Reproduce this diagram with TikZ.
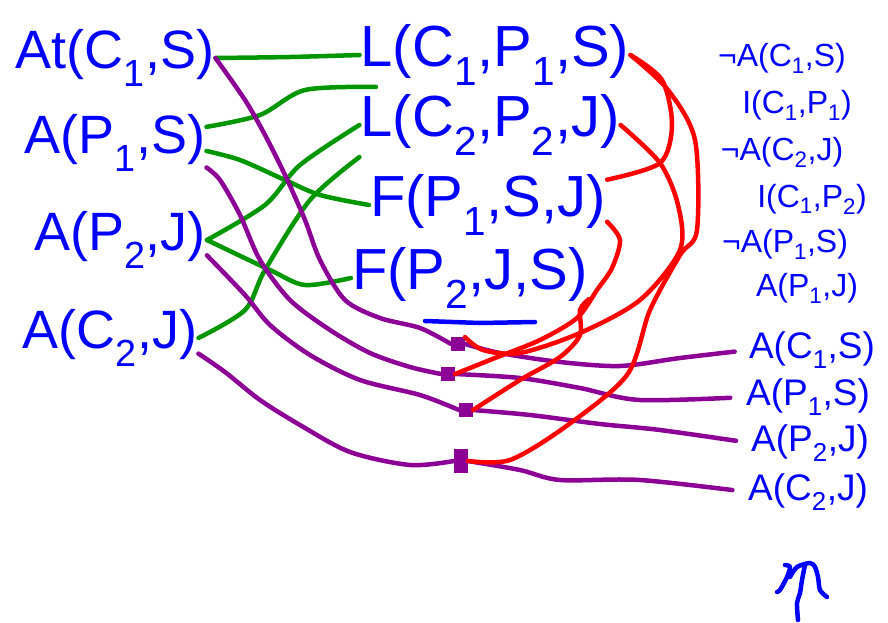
\documentclass[tikz,border=0pt]{standalone}
\usepackage{fontspec}
\setmainfont{Liberation Sans}
\definecolor{azul}{RGB}{0,0,255}
\definecolor{verde}{RGB}{0,150,0}
\definecolor{morado}{RGB}{140,0,150}
\definecolor{rojo}{RGB}{255,0,0}
\tikzset{
	grande/.style={text=azul, inner sep=1pt, font=\fontsize{54}{60}\selectfont},
	medio/.style={text=azul, inner sep=1pt, font=\fontsize{58}{64}\selectfont},
	chico/.style={text=azul, inner sep=0pt, font=\fontsize{32}{36}\selectfont},
	chicob/.style={text=azul, inner sep=0pt, font=\fontsize{37}{40}\selectfont},
	linea/.style={line width=4.5pt, line cap=round, line join=round},
	puerta/.style={draw=morado, line width=2pt, fill=morado, minimum size=12pt, inner sep=0pt}
}
\begin{document}
		\begin{tikzpicture}[x=1pt, y=-1pt]
			\useasboundingbox (0,0) rectangle (888,623);
			% Lado izquierdo
			\node[grande] (at1) at (115,58) {At(C\textsubscript{1},S)};
			\node[grande] (aps) at (115,143) {A(P\textsubscript{1},S)};
			\node[grande] (apj) at (120,240) {A(P\textsubscript{2},J)};
			\node[grande] (acj) at (110,338) {A(C\textsubscript{2},J)};
			
			% Centro
			\node[medio] (l1) at (495,55) {L(C\textsubscript{1},P\textsubscript{1},S)};
			\node[medio] (l2) at (490,125) {L(C\textsubscript{2},P\textsubscript{2},J)};
			\node[medio] (f1) at (488,205) {F(P\textsubscript{1},S,J)};
			\node[medio] (f2) at (470,278) {F(P\textsubscript{2},J,S)};
			\draw[azul, linea] (425,321) -- (480,323) -- (535,322);
			
			% Lado derecho
			\node[chico] (n1) at (782,58) {¬A(C\textsubscript{1},S)};
			\node[chico] (i1) at (797,105) {I(C\textsubscript{1},P\textsubscript{1})};
			\node[chico] (n2) at (782,152) {¬A(C\textsubscript{2},J)};
			\node[chico] (i2) at (812,199) {I(C\textsubscript{1},P\textsubscript{2})};
			\node[chico] (n3) at (785,244) {¬A(P\textsubscript{1},S)};
			\node[chico] (a3) at (807,288) {A(P\textsubscript{1},J)};
			
			\node[chicob] (s1) at (812,350) {A(C\textsubscript{1},S)};
			\node[chicob] (s2) at (808,397) {A(P\textsubscript{1},S)};
			\node[chicob] (s3) at (810,443) {A(P\textsubscript{2},J)};
			\node[chicob] (s4) at (808,492) {A(C\textsubscript{2},J)};
			
			% Puertas
			\node[puerta] (g1) at (458,344) {};
			\node[puerta] (g2) at (448,374) {};
			\node[puerta] (g3) at (466,410) {};
			\node[puerta, minimum height=22pt] (g4) at (461,461) {};
			
			% Verde
			\draw[verde, linea] plot[smooth] coordinates {(at1.east) (290,57) (l1.west)};
			\draw[verde, linea] plot[smooth] coordinates {(aps.10) (260,115) (305,90) (l1.195)};
			\draw[verde, linea] plot[smooth] coordinates {(aps.-5) (240,160) (285,180) (320,195) (f1.west)};
			\draw[verde, linea] plot[smooth] coordinates {(l2.west) (300,165) (265,205) (apj.east)};
			\draw[verde, linea] plot[smooth] coordinates {(apj.east) (270,270) (305,285) (f2.west)};
			\draw[verde, linea] plot[smooth] coordinates {(l2.south west) (310,200) (265,270) (245,310) (acj.east)};
			
			% Morado
			\draw[morado, linea] plot[smooth] coordinates {(at1.east) (245,100) (265,135) (285,175) (305,220) (320,260) (345,300) (380,318) (420,328) (g1.west)};
			\draw[morado, linea] plot[smooth] coordinates {(aps.-15) (220,180) (240,215) (260,260) (290,300) (330,330) (370,353) (410,367) (g2.west)};
			\draw[morado, linea] plot[smooth] coordinates {(apj.-10) (245,295) (270,325) (310,355) (360,380) (420,395) (g3.west)};
			\draw[morado, linea] plot[smooth] coordinates {(acj.-10) (225,372) (260,400) (300,425) (350,452) (410,465) (g4.west)};
			
			\draw[morado, linea, shorten >=18pt] plot[smooth] coordinates {(g1.east) (500,353) (560,362) (620,366) (680,358) (s1.west)};
			\draw[morado, linea, shorten >=18pt] plot[smooth] coordinates {(g2.east) (520,378) (580,388) (640,400) (s2.west)};
			\draw[morado, linea, shorten >=18pt] plot[smooth] coordinates {(g3.east) (530,415) (600,424) (660,430) (s3.west)};
			\draw[morado, linea, shorten >=18pt] plot[smooth] coordinates {(g4.east) (520,470) (560,480) (640,480) (s4.west)};
			
			% Rojo
			\draw[rojo, linea] plot[smooth] coordinates {(l1.east) (668,90) (695,140) (697,230) (680,255) (650,310) (627,375) (565,427) (510,460) (g4.east)};
			\draw[rojo, linea] plot[smooth] coordinates {(l1.east) (662,80) (672,125) (660,163) (f1.12)};
			\draw[rojo, linea] plot[smooth] coordinates {(l2.east) (660,163) (678,205) (680,250) (640,300) (580,333) (520,353) (483,350) (g1.north east)};
			\draw[rojo, linea] plot[smooth] coordinates {(f1.-8) (620,240) (612,268) (597,290) (577,318) (540,340) (495,358) (g2.east)};
			\draw[rojo, linea] plot[smooth] coordinates {(f2.-10) (580,310) (580,335) (560,357) (520,380) (g3.east)};
			
			% Abajo
			\draw[azul, linea] plot[smooth] coordinates {(785,565) (790,567) (787,577) (780,590) (777,592)};
			\draw[azul, linea] plot[smooth] coordinates {(790,577) (797,567) (810,563) (815,567) (818,577) (820,590) (827,597)};
			\draw[azul, linea] plot[smooth] coordinates {(805,565) (802,580) (800,593) (797,603) (798,620)};
		\end{tikzpicture}
\end{document}
